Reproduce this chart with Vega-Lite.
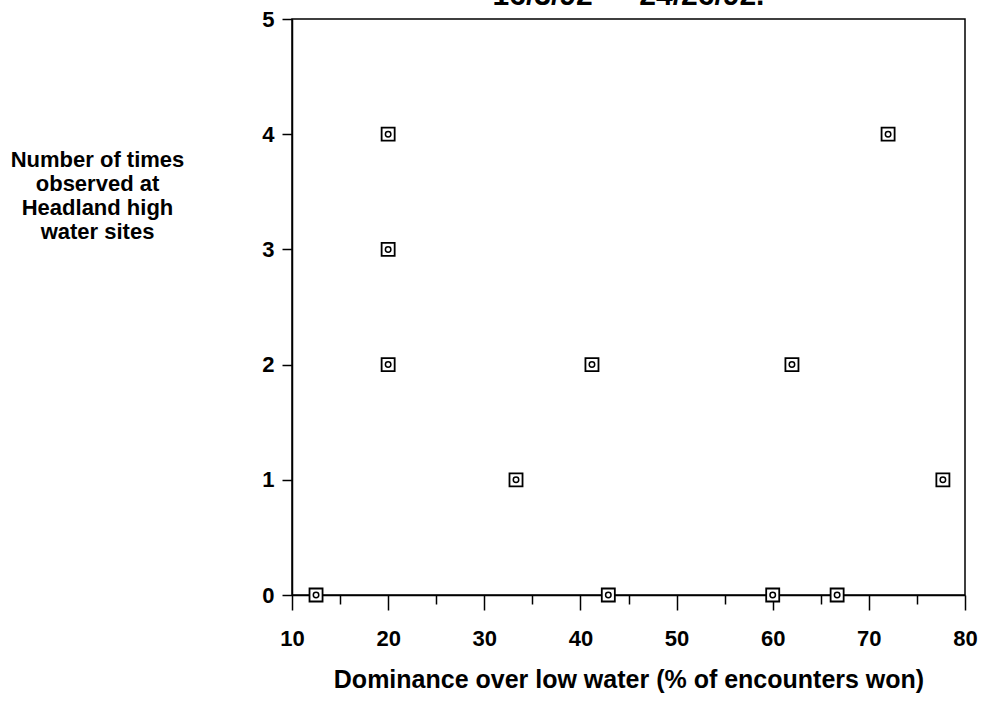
{
  "$schema": "https://vega.github.io/schema/vega-lite/v6.json",
  "width": 673,
  "height": 576,
  "autosize": "none",
  "padding": {"left": 292, "top": 19, "right": 27, "bottom": 115},
  "background": "white",
  "title": {
    "text": "16/3/92  —  24/26/92.",
    "font": "Liberation Sans",
    "fontSize": 30,
    "fontWeight": "bold",
    "color": "black",
    "anchor": "middle",
    "baseline": "alphabetic",
    "offset": -27
  },
  "config": {
    "view": {"stroke": "black", "strokeWidth": 1.5},
    "axis": {
      "grid": false,
      "domainColor": "black",
      "domainWidth": 1.5,
      "tickColor": "black",
      "tickWidth": 1.5,
      "labelFont": "Liberation Sans",
      "labelFontWeight": "bold",
      "labelFontSize": 22,
      "labelColor": "black",
      "titleFont": "Liberation Sans",
      "titleFontWeight": "bold",
      "titleFontSize": 22,
      "titleColor": "black"
    }
  },
  "data": {
    "values": [
      {"dominance": 12.5, "count": 0},
      {"dominance": 20, "count": 4},
      {"dominance": 20, "count": 3},
      {"dominance": 20, "count": 2},
      {"dominance": 33.3, "count": 1},
      {"dominance": 41.2, "count": 2},
      {"dominance": 42.9, "count": 0},
      {"dominance": 60, "count": 0},
      {"dominance": 62, "count": 2},
      {"dominance": 66.7, "count": 0},
      {"dominance": 72, "count": 4},
      {"dominance": 77.7, "count": 1}
    ]
  },
  "encoding": {
    "x": {
      "field": "dominance",
      "type": "quantitative",
      "scale": {"domain": [10, 80], "nice": false, "zero": false},
      "axis": {
        "title": "Dominance over low water (% of encounters won)",
        "titleFontSize": 25,
        "values": [10, 15, 20, 25, 30, 35, 40, 45, 50, 55, 60, 65, 70, 75, 80],
        "format": "d",
        "labelExpr": "datum.value % 10 === 0 ? datum.label : ''",
        "tickSize": {"condition": {"test": "datum.value % 10 === 0", "value": 15}, "value": 9},
        "labelPadding": 18,
        "labelFlush": false,
        "titlePadding": 18
      }
    },
    "y": {
      "field": "count",
      "type": "quantitative",
      "scale": {"domain": [0, 5], "nice": false},
      "axis": {
        "title": ["Number of times", "observed at", "Headland high", "water sites"],
        "titleAngle": 0,
        "titleAlign": "center",
        "titleBaseline": "top",
        "titleX": -195,
        "titleY": 130,
        "titleLineHeight": 24,
        "values": [0, 0.5, 1, 1.5, 2, 2.5, 3, 3.5, 4, 4.5, 5],
        "format": "d",
        "labelExpr": "datum.value % 1 === 0 ? datum.label : ''",
        "tickSize": 10,
        "labelPadding": 8,
        "labelFlush": false
      }
    }
  },
  "layer": [
    {
      "mark": {"type": "point", "shape": "square", "size": 170, "filled": false, "stroke": "black", "strokeWidth": 1.8, "fill": "white", "fillOpacity": 1, "opacity": 1}
    },
    {
      "mark": {"type": "point", "shape": "circle", "size": 30, "filled": false, "stroke": "black", "strokeWidth": 1.5, "opacity": 1}
    }
  ]
}
